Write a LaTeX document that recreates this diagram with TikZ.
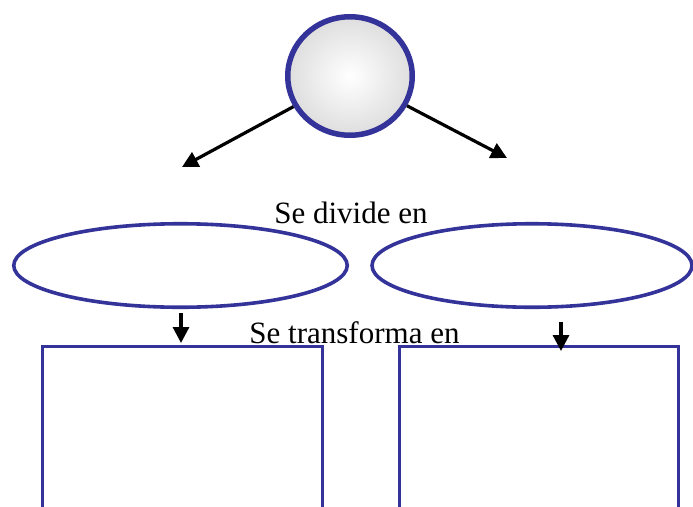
\documentclass[tikz,border=0pt]{standalone}
\usepackage{fontspec}
\setmainfont{Liberation Serif}
\usetikzlibrary{shapes.geometric,arrows.meta}
\definecolor{bordblue}{RGB}{51,51,153}
\tikzset{
  shapebox/.style={draw=bordblue, line width=3.6pt, inner sep=0pt},
  ovalbox/.style={shapebox, ellipse},
  rectbox/.style={shapebox, rectangle, anchor=north},
  arr/.style={draw=black, line width=3.2pt, -{Triangle[length=16pt,width=16pt]}},
  lbl/.style={font=\fontsize{31}{36}\selectfont, inner sep=0pt, anchor=base}
}
\begin{document}
\begin{tikzpicture}[x=1pt,y=-1pt]
\useasboundingbox (0,0) rectangle (693,506);
\node[draw=bordblue, line width=5.5pt, ellipse, inner sep=0pt, minimum width=124.5pt, minimum height=118.5pt,
  shading=radial, inner color=white, outer color=black!13] (c) at (350,76) {};
\coordinate (tl) at (182,167);
\coordinate (tr) at (507,158);
\draw[arr] (c) -- (tl);
\draw[arr] (c) -- (tr);
\node[lbl] (t1) at (351,223) {Se divide en};
\node[ovalbox, minimum width=333.5pt, minimum height=83.5pt] (e1) at (180.5,265.5) {};
\node[ovalbox, minimum width=320pt, minimum height=83.5pt] (e2) at (532,265.5) {};
\node[lbl] (t2) at (354.5,343) {Se transforma en};
\node[rectbox, minimum width=280pt, minimum height=200pt] (r1) at (182.5,344.8) {};
\node[rectbox, minimum width=279pt, minimum height=200pt] (r2) at (539,344.8) {};
\coordinate (a1s) at (181,313);
\coordinate (a1e) at (181,343);
\coordinate (a2s) at (561,322);
\coordinate (a2e) at (561,351);
\draw[arr] (a1s) -- (a1e);
\draw[arr] (a2s) -- (a2e);
\end{tikzpicture}
\end{document}
